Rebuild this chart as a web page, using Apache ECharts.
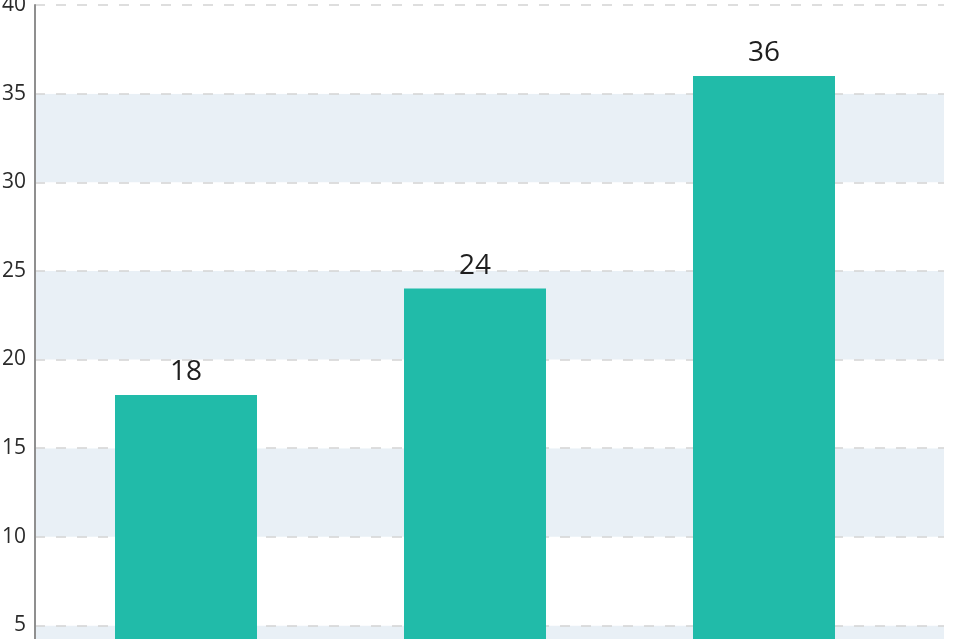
<!DOCTYPE html>
<html>
<head>
<meta charset="utf-8">
<script src="https://cdn.jsdelivr.net/npm/echarts@6/dist/echarts.min.js"></script>
<style>
html,body{margin:0;padding:0;background:#fff;}
#chart{width:960px;height:639px;}
</style>
</head>
<body>
<div id="chart"></div>
<script>
const categories = ['A', 'B', 'C'];
const values = [18, 24, 36];
const yMin = 0, yMax = 40, yStep = 5;

const chart = echarts.init(document.getElementById('chart'));
const font = 'Open Sans';
chart.setOption({
  animation: false,
  backgroundColor: '#ffffff',
  grid: [
    { left: 35, right: 16, top: 5, height: 709, containLabel: false, outerBoundsMode: 'none' },
    { left: 41.5, width: 867, top: 5, height: 709, containLabel: false, outerBoundsMode: 'none' }
  ],
  xAxis: [
    { gridIndex: 0, type: 'category', data: categories, show: false },
    { gridIndex: 1, type: 'category', data: categories, show: false }
  ],
  yAxis: [
    {
      gridIndex: 0, type: 'value', min: yMin, max: yMax, interval: yStep,
      axisLine: { show: true, lineStyle: { color: '#8f8f8f', width: 2 } },
      axisTick: { show: false },
      axisLabel: { color: '#2a2a2a', fontSize: 21, fontFamily: font, margin: 9 },
      splitLine: { show: true, lineStyle: { color: '#d4d4d4', width: 1.5, type: [10, 11] } },
      splitArea: { show: true, areaStyle: { color: ['#e9f0f6', '#ffffff'] } }
    },
    { gridIndex: 1, type: 'value', min: yMin, max: yMax, interval: yStep, show: false, splitLine: { show: false } }
  ],
  series: [{
    type: 'bar',
    xAxisIndex: 1, yAxisIndex: 1,
    data: values,
    barWidth: 142,
    itemStyle: { color: '#21bba9' },
    label: {
      show: true, position: 'top', distance: 9,
      color: '#1e1e1e', fontSize: 28, fontFamily: font
    }
  }]
});
</script>
</body>
</html>
